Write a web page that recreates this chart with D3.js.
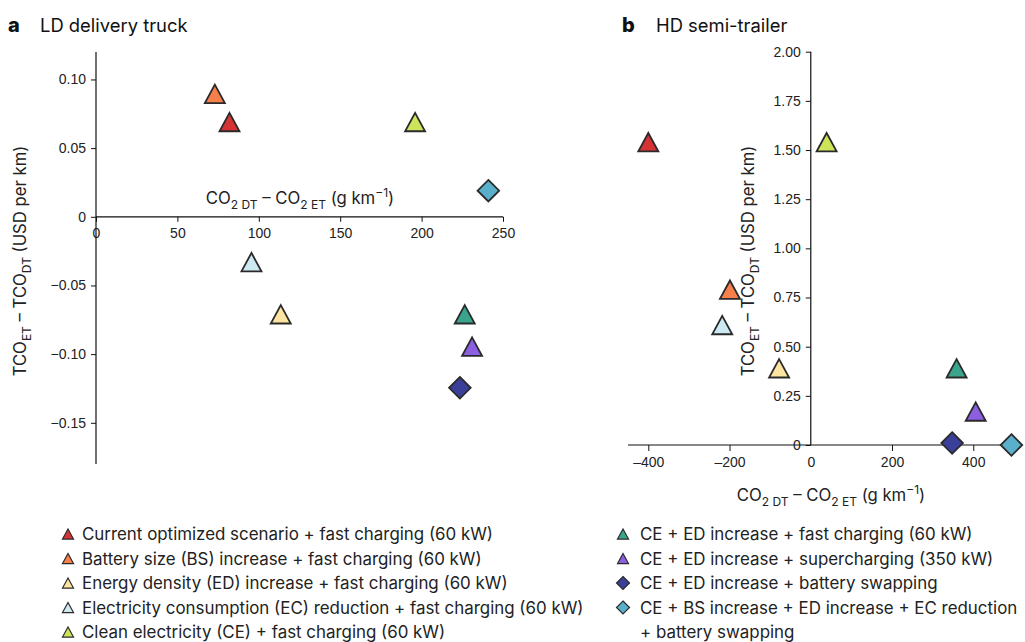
<!DOCTYPE html>
<html>
<head>
<meta charset="utf-8">
<script src="https://cdn.jsdelivr.net/npm/d3@7"></script>
<style>
  body { margin: 0; background: #fff; }
  svg { display: block; font-family: Inter, "Open Sans", sans-serif; }
  .tick text { font-size: 14px; fill: #222; }
  .axis path, .axis line { stroke: #111; }
</style>
</head>
<body>
<svg id="chart" width="1025" height="642"></svg>
<script>
// ---------------- data ----------------
const scenarios = [
  "Current optimized scenario + fast charging (60 kW)",
  "Battery size (BS) increase + fast charging (60 kW)",
  "Energy density (ED) increase + fast charging (60 kW)",
  "Electricity consumption (EC) reduction + fast charging (60 kW)",
  "Clean electricity (CE) + fast charging (60 kW)",
  "CE + ED increase + fast charging (60 kW)",
  "CE + ED increase + supercharging (350 kW)",
  "CE + ED increase + battery swapping",
  "CE + BS increase + ED increase + EC reduction|+ battery swapping"
];
const shapes = ["tri","tri","tri","tri","tri","tri","tri","dia","dia"];
const colors = ["#d63434","#f77f4c","#fde4a0","#cde9f2","#cde35a","#3aa58c","#8b5fe0","#3a3f9a","#5aafcb"];

// Panel a: LD delivery truck
const ldCO2 = [82, 73, 113.5, 95.5, 196, 226.5, 231, 223.5, 241];
const ldTCO = [0.069, 0.0895, -0.071, -0.033, 0.069, -0.071, -0.0945, -0.1245, 0.019];
const ldXTicks = [0, 50, 100, 150, 200, 250];
const ldYTicks = [0.10, 0.05, 0, -0.05, -0.10, -0.15];

// Panel b: HD semi-trailer
const hdCO2 = [-400, -199, -78, -218, 39, 359, 406, 348, 494];
const hdTCO = [1.54, 0.79, 0.39, 0.61, 1.54, 0.39, 0.17, 0.01, 0.0];
const hdXTicks = [-400, -200, 0, 200, 400];
const hdYTicks = [0, 0.25, 0.5, 0.75, 1.0, 1.25, 1.5, 1.75, 2.0];

// ---------------- drawing ----------------
const svg = d3.select("#chart");

function markerPath(shape, s) {
  const p = d3.path();
  if (shape === "tri") {
    const w = s, h = s * 0.92;
    p.moveTo(0, -h / 2); p.lineTo(w / 2, h / 2); p.lineTo(-w / 2, h / 2); p.closePath();
  } else {
    const r = s * 0.5;
    p.moveTo(0, -r); p.lineTo(r, 0); p.lineTo(0, r); p.lineTo(-r, 0); p.closePath();
  }
  return p.toString();
}

function addSubLabel(g, parts, size) {
  const t = g.append("text").attr("font-size", size).attr("fill", "#222");
  parts.forEach(([txt, mode]) => {
    const ts = t.append("tspan").text(txt);
    if (mode === "sub") ts.attr("font-size", size * 0.72).attr("dy", size * 0.3);
    else if (mode === "sup") ts.attr("font-size", size * 0.72).attr("dy", -size * 0.4);
    if (mode !== "n") ts.attr("data-mode", mode);
  });
  const spans = t.selectAll("tspan").nodes();
  for (let i = 1; i < spans.length; i++) {
    const prev = spans[i - 1].getAttribute("data-mode");
    const cur = spans[i].getAttribute("data-mode");
    if (prev && !cur) {
      d3.select(spans[i]).attr("dy", prev === "sub" ? -size * 0.3 : size * 0.4);
    }
  }
  return t;
}

const xLabelParts = [["CO","n"],["2 DT","sub"],[" – CO","n"],["2 ET","sub"],[" (g km","n"],["−1","sup"],[")","n"]];
const yLabelParts = [["TCO","n"],["ET","sub"],[" – TCO","n"],["DT","sub"],[" (USD per km)","n"]];

function drawPoints(g, x, y, xs, ys, size) {
  g.selectAll("path.pt").data(xs.map((v, i) => i)).join("path")
    .attr("class", "pt")
    .attr("d", i => markerPath(shapes[i], shapes[i] === "tri" ? size : size * 1.08))
    .attr("transform", i => `translate(${x(xs[i])},${y(ys[i])})`)
    .attr("fill", i => colors[i])
    .attr("stroke", "#2a2a2a")
    .attr("stroke-width", 1.8)
    .attr("stroke-linejoin", "miter");
}

// ---- Panel a ----
{
  const x = d3.scaleLinear().domain([0, 250]).range([96, 503]);
  const y = d3.scaleLinear().domain([-0.18, 0.12]).range([464, 52]);
  const g = svg.append("g");
  g.append("text").attr("x", 8).attr("y", 32).attr("font-size", 20).attr("font-weight", 800).attr("fill", "#111").text("a");
  g.append("text").attr("x", 40).attr("y", 32).attr("font-size", 18.4).attr("fill", "#111").text("LD delivery truck");

  g.append("g").attr("class", "axis").attr("transform", `translate(0,${y(0)})`)
    .call(d3.axisBottom(x).tickValues(ldXTicks).tickSize(5).tickPadding(6).tickFormat(d3.format("d")))
    .call(a => a.select(".domain").attr("d", `M${x(0)},0H${x(250)}`).attr("stroke-width", 1.2));
  g.append("g").attr("class", "axis").attr("transform", `translate(${x(0)},0)`)
    .call(d3.axisLeft(y).tickValues(ldYTicks).tickSize(5).tickPadding(5)
      .tickFormat(d => d === 0 ? "0" : d3.format(".2f")(d).replace("-", "–")))
    .call(a => a.select(".domain").attr("d", `M0,${y(0.12)}V${y(-0.18)}`).attr("stroke-width", 1.2));

  const xl = addSubLabel(g, xLabelParts, 16.7);
  xl.attr("x", 300).attr("y", 204).attr("text-anchor", "middle");
  const yl = addSubLabel(g, yLabelParts, 16.7);
  yl.attr("text-anchor", "middle").attr("transform", "translate(26,261) rotate(-90)");

  drawPoints(g, x, y, ldCO2, ldTCO, 20);
}

// ---- Panel b ----
{
  const x = d3.scaleLinear().domain([-450, 520]).range([628, 1022]);
  const y = d3.scaleLinear().domain([0, 2]).range([445, 51.7]);
  const g = svg.append("g");
  g.append("text").attr("x", 622).attr("y", 32).attr("font-size", 20).attr("font-weight", 800).attr("fill", "#111").text("b");
  g.append("text").attr("x", 656).attr("y", 32).attr("font-size", 18.4).attr("fill", "#111").text("HD semi-trailer");

  g.append("g").attr("class", "axis").attr("transform", `translate(0,${y(0)})`)
    .call(d3.axisBottom(x).tickValues(hdXTicks).tickSize(6).tickPadding(6)
      .tickFormat(d => String(d).replace("-", "–")))
    .call(a => a.select(".domain").attr("d", `M${x(-450)},0H${x(520)}`).attr("stroke-width", 1.2))
    .call(a => a.selectAll(".tick").filter(d => d === 0).select("line").remove());
  g.append("g").attr("class", "axis").attr("transform", `translate(${x(0)},0)`)
    .call(d3.axisLeft(y).tickValues(hdYTicks).tickSize(5).tickPadding(5)
      .tickFormat(d => d === 0 ? "0" : d3.format(".2f")(d)))
    .call(a => a.select(".domain").attr("d", `M0,${y(2)}V${y(0)}`).attr("stroke-width", 1.2));

  const xl = addSubLabel(g, xLabelParts, 16.7);
  xl.attr("x", 831).attr("y", 501).attr("text-anchor", "middle");
  const yl = addSubLabel(g, yLabelParts, 16.7);
  yl.attr("text-anchor", "middle").attr("transform", "translate(754,261) rotate(-90)");

  drawPoints(g, x, y, hdCO2, hdTCO, 20);
}

// ---- Legend ----
{
  const leg = svg.append("g");
  const rowY = [534, 558.5, 583, 607.5, 632];
  const items = scenarios.map((s, i) => {
    const col = i < 5 ? 0 : 1;
    const row = i < 5 ? i : i - 5;
    return { i, col, row, lines: s.split("|") };
  });
  items.forEach(d => {
    const mx = d.col === 0 ? 68 : 623;
    const tx = d.col === 0 ? 82 : 640;
    const cy = rowY[d.row];
    leg.append("path")
      .attr("d", markerPath(shapes[d.i], shapes[d.i] === "tri" ? 11 : 13))
      .attr("transform", `translate(${mx},${cy})`)
      .attr("fill", colors[d.i]).attr("stroke", "#2a2a2a").attr("stroke-width", 1.2);
    d.lines.forEach((ln, k) => {
      leg.append("text").attr("x", tx).attr("y", rowY[d.row + k] + 6)
        .attr("font-size", 16.9).attr("fill", "#222").text(ln);
    });
  });
}
</script>
</body>
</html>
